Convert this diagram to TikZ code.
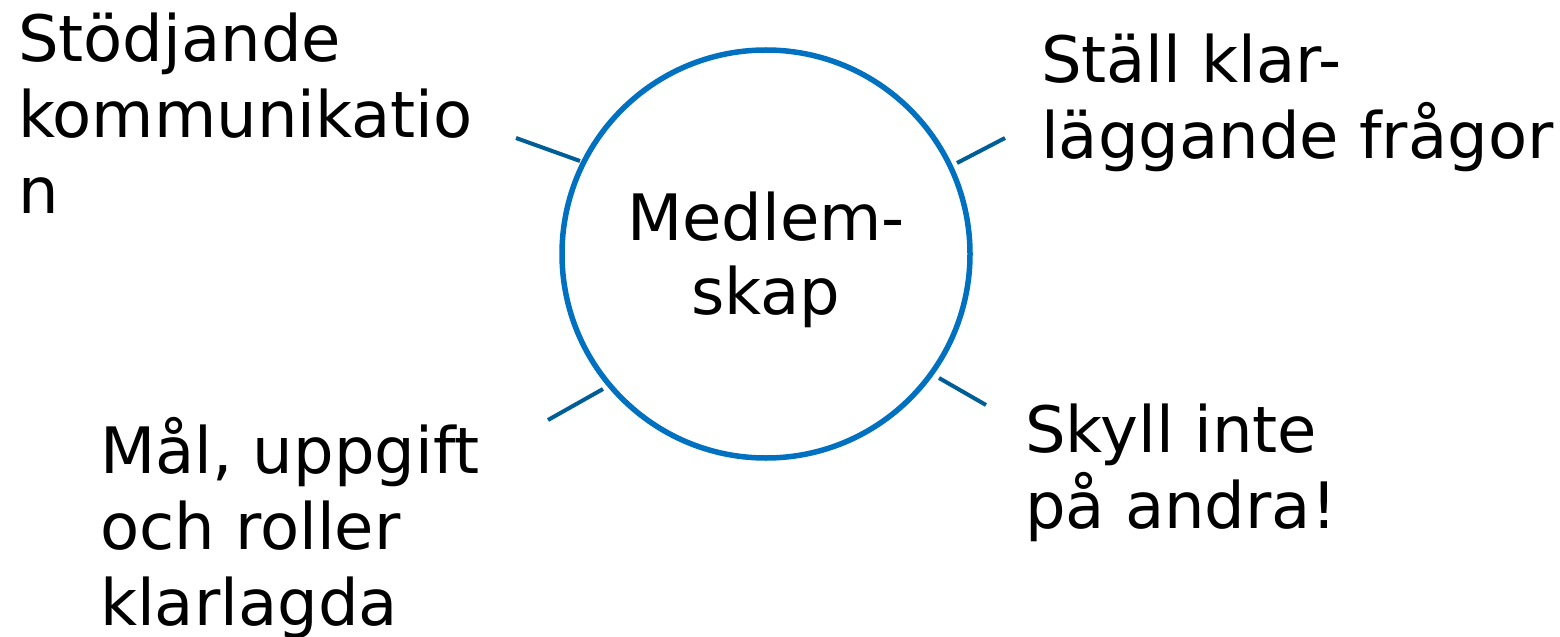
\documentclass[tikz,border=0pt]{standalone}
\usepackage{fontspec}
\setmainfont{DejaVu Sans}
\definecolor{ringblue}{RGB}{0,112,192}
\definecolor{tickblue}{RGB}{0,94,150}
\newcommand{\mlL}[1]{\vtop{\baselineskip=76bp\lineskip=0pt\lineskiplimit=-100bp\halign{##\hfil\cr#1\crcr}}}
\newcommand{\mlC}[1]{\vtop{\baselineskip=74bp\lineskip=0pt\lineskiplimit=-100bp\halign{\hfil##\hfil\cr#1\crcr}}}
\tikzset{
  lbl/.style={inner sep=0pt, outer sep=0pt, font=\fontsize{64bp}{76bp}\selectfont},
  ring/.style={circle, draw=ringblue, line width=5.5bp, minimum size=408bp, inner sep=0pt},
  tick/.style={draw=tickblue, line width=4bp}
}
\begin{document}
\begin{tikzpicture}[x=1bp,y=-1bp]
\useasboundingbox (0,0) rectangle (1560,637);
\node[ring] (c) at (766,254) {};
\node[lbl, anchor=base] (m) at (766,240) {\mlC{Medlem-\cr skap}};
\node[lbl, anchor=base west] (tl) at (18,62) {\mlL{Stödjande\cr kommunikatio\cr n}};
\node[lbl, anchor=base west] (tr) at (1041,83) {\mlL{Ställ klar-\cr läggande frågor}};
\node[lbl, anchor=base west] (bl) at (100,473) {\mlL{Mål, uppgift\cr och roller\cr klarlagda}};
\node[lbl, anchor=base west] (br) at (1025,452) {\mlL{Skyll inte\cr på andra!}};
\coordinate (t1a) at (516,138); \coordinate (t1b) at (580,161);
\coordinate (t2a) at (957,163); \coordinate (t2b) at (1005,138);
\coordinate (t3a) at (548,420); \coordinate (t3b) at (603,389);
\coordinate (t4a) at (939,378); \coordinate (t4b) at (986,405);
\draw[tick] (t1a) -- (t1b);
\draw[tick] (t2a) -- (t2b);
\draw[tick] (t3a) -- (t3b);
\draw[tick] (t4a) -- (t4b);
\end{tikzpicture}
\end{document}
